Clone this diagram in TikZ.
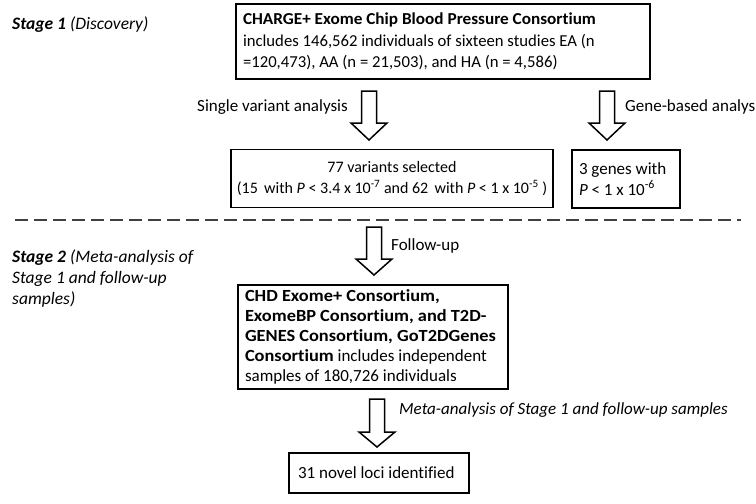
\documentclass[tikz,border=0pt]{standalone}
\usepackage{fontspec}
\setmainfont{Carlito}[Ligatures={NoCommon}, BoldFeatures={FakeStretch=1.03}]
\newfontfamily\chdbold{Carlito Bold}[FakeStretch=1.08, Ligatures={NoCommon}]
\usetikzlibrary{calc}
\tikzset{
  box/.style={draw=black, line width=1.8pt, inner ysep=0pt, inner xsep=0pt,
    font=\fontsize{16.7}{21.5}\selectfont},
  blockarrow/.style={draw=black, line width=1.5pt, fill=white, line join=miter},
  lbl/.style={inner sep=0pt, font=\fontsize{17}{21}\selectfont},
  stagelbl/.style={inner sep=0pt, align=flush left, font=\fontsize{17.5}{21}\selectfont\itshape},
  divider/.style={draw=black!75, line width=2pt, dash pattern=on 13pt off 6pt}
}
\newcommand\BlockArrow[3]{% top, tip, head length
  \draw[blockarrow] let \p1=(#1), \p2=(#2) in
    (\x1-7.5pt,\y1) -- (\x1+7.5pt,\y1) -- (\x1+7.5pt,\y2+#3) -- (\x1+18pt,\y2+#3)
    -- (\x2,\y2) -- (\x1-18pt,\y2+#3) -- (\x1-7.5pt,\y2+#3) -- cycle;}
\begin{document}
\begin{tikzpicture}[x=1pt,y=-1pt]
\useasboundingbox[fill=white] (0,0) rectangle (756,504);

% stage labels
\node[stagelbl, anchor=west] (stage1) at (12,25) {\textbf{Stage 1} (Discovery)};
\node[stagelbl, anchor=west] (stage2) at (12,279) {\textbf{Stage 2} (Meta-analysis of\\Stage 1 and follow-up\\samples)};

% boxes
\node[box, minimum width=414, minimum height=75, text width=400, align=flush left] (charge) at (443,41.5)
 {\textbf{CHARGE+ Exome Chip Blood Pressure Consortium}\\includes 146,562 individuals of sixteen studies EA (n\\=120,473), AA (n = 21,503), and HA (n = 4,586)};

\node[box, minimum width=322, minimum height=58, align=center, font=\fontsize{16}{21.5}\selectfont] (variants) at (392,178.5)
 {77 variants selected\\(15 \,with \textit{P} < 3.4 x 10\textsuperscript{-7} and 62 \,with \textit{P} < 1 x 10\textsuperscript{-5} )};

\node[box, minimum width=108, minimum height=58, text width=94, align=flush left, font=\fontsize{17}{20.5}\selectfont] (genes) at (626,179)
 {3 genes with\\\textit{P} < 1 x 10\textsuperscript{-6}};

\node[box, minimum width=270, minimum height=104, text width=256, align=flush left, font=\fontsize{17}{20}\selectfont] (chd) at (373,337)
 {{\chdbold CHD Exome+ Consortium,}\\{\chdbold ExomeBP Consortium, and T2D-}\\{\chdbold GENES Consortium, GoT2DGenes}\\{\chdbold Consortium} includes independent\\samples of 180,726 individuals};

\node[box, minimum width=180, minimum height=40, text width=162, align=flush left, font=\fontsize{17}{21}\selectfont] (loci) at (379,473)
 {31 novel loci identified};

% divider
\coordinate (divL) at (15,220);
\coordinate (divR) at (741,220);
\draw[divider] (divL) -- (divR);

% block arrows
\coordinate (a1top) at (369,91);  \coordinate (a1tip) at (369,140);
\coordinate (a2top) at (607,91);  \coordinate (a2tip) at (607,140);
\coordinate (a3top) at (374,227); \coordinate (a3tip) at (374,275);
\coordinate (a4top) at (377,399); \coordinate (a4tip) at (377,447);
\BlockArrow{a1top}{a1tip}{17pt}
\BlockArrow{a2top}{a2tip}{17pt}
\BlockArrow{a3top}{a3tip}{16pt}
\BlockArrow{a4top}{a4tip}{15pt}

% arrow labels
\node[lbl, anchor=east] (l1) at (348,107) {Single variant analysis};
\node[lbl, anchor=west] (l2) at (625,107) {Gene-based analys};
\node[lbl, anchor=west] (l3) at (391,246) {Follow-up};
\node[lbl, anchor=west, font=\fontsize{17}{21}\selectfont\itshape] (l4) at (399,410) {Meta-analysis of Stage 1 and follow-up samples};
\end{tikzpicture}
\end{document}
